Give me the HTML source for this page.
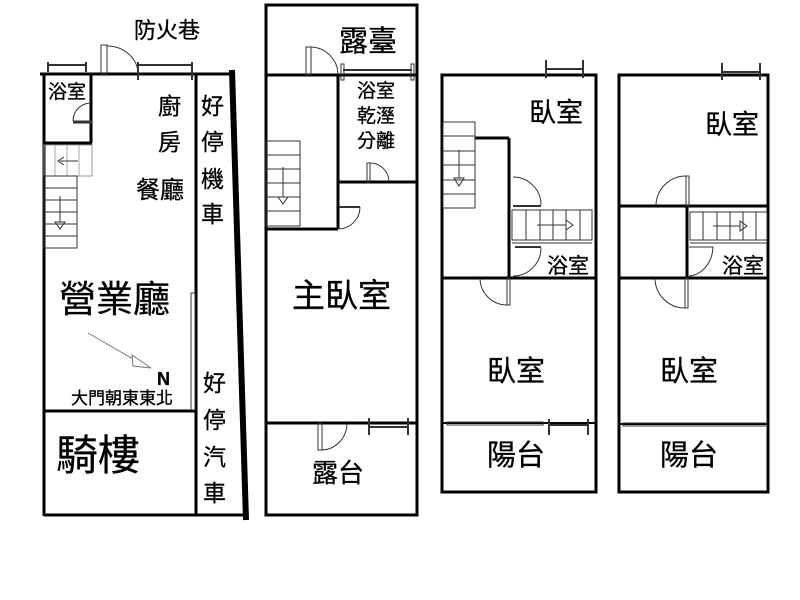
<!DOCTYPE html>
<html><head><meta charset="utf-8"><style>
body{margin:0;background:#fff;}
svg{display:block;}
text{font-family:"Liberation Sans","Noto Sans CJK TC",sans-serif;fill:#000;stroke:#000;stroke-width:0.3;}
</style></head><body>
<svg width="800" height="600" viewBox="0 0 800 600" xmlns="http://www.w3.org/2000/svg">
<g stroke="#000" stroke-width="3" fill="none">
<line x1="40" y1="74" x2="234" y2="74"/>
<line x1="44" y1="74" x2="44" y2="516"/>
<line x1="196" y1="74" x2="196" y2="516"/>
<line x1="44" y1="411" x2="196" y2="411"/>
<line x1="44" y1="515" x2="246" y2="515"/>
<line x1="91" y1="74" x2="91" y2="143"/>
<line x1="44" y1="143" x2="92" y2="143"/>
<line x1="232" y1="70" x2="246" y2="520" stroke-width="6"/>
<rect x="266" y="5" width="151" height="510"/>
<line x1="266" y1="75" x2="417" y2="75"/>
<line x1="338" y1="75" x2="338" y2="229"/>
<line x1="338" y1="182" x2="417" y2="182"/>
<line x1="266" y1="229" x2="338" y2="229"/>
<line x1="266" y1="423" x2="417" y2="423"/>
<rect x="442" y="75" width="154" height="417"/>
<line x1="475" y1="138" x2="509" y2="138"/>
<line x1="509" y1="138" x2="509" y2="278"/>
<line x1="442" y1="278" x2="596" y2="278"/>
<line x1="442" y1="423" x2="596" y2="423" stroke-width="2"/>
<rect x="619" y="75" width="149" height="417"/>
<line x1="619" y1="206" x2="768" y2="206"/>
<line x1="687" y1="206" x2="687" y2="278"/>
<line x1="619" y1="278" x2="768" y2="278"/>
<line x1="619" y1="424" x2="768" y2="424" stroke-width="2"/>
</g>
<g stroke="#333" stroke-width="1" fill="none">
<rect x="101" y="45" width="6" height="29"/>
<path d="M107 46 A31 28 0 0 1 138 74"/>
<line x1="138" y1="65" x2="192" y2="65" stroke-width="2"/>
<line x1="138" y1="62" x2="138" y2="80" stroke-width="2"/>
<line x1="192" y1="62" x2="192" y2="80" stroke-width="2"/>
<line x1="48" y1="65" x2="86" y2="65" stroke-width="2"/>
<line x1="48" y1="62" x2="48" y2="72" stroke-width="2"/>
<line x1="86" y1="62" x2="86" y2="72" stroke-width="2"/>
<path d="M73 121 A18 18 0 0 1 91 103"/>
<line x1="73" y1="122" x2="92" y2="122" stroke-width="3"/>
<rect x="44" y="145" width="48" height="31" stroke="#999"/>
<line x1="55" y1="145" x2="55" y2="176" stroke="#aaa"/><line x1="67" y1="145" x2="67" y2="176" stroke="#aaa"/><line x1="79" y1="145" x2="79" y2="176" stroke="#aaa"/>
<line x1="60" y1="161" x2="78" y2="161"/><path d="M64 157 L58 161 L64 165"/>
<rect x="44" y="176" width="33" height="72"/>
<line x1="44" y1="188" x2="77" y2="188"/><line x1="44" y1="200" x2="77" y2="200"/><line x1="44" y1="212" x2="77" y2="212"/><line x1="44" y1="224" x2="77" y2="224"/><line x1="44" y1="236" x2="77" y2="236"/>
<line x1="60" y1="196" x2="60" y2="222"/><path d="M55 222 L60 229 L65 222 Z"/>
<rect x="191" y="293" width="4" height="117"/>
<line x1="88" y1="333" x2="140" y2="363" stroke="#777"/><path d="M132 355 L151 368 L133 366 Z" fill="#fff" stroke="#777"/>
<rect x="306" y="47" width="5" height="28"/>
<path d="M311 47 A28 28 0 0 1 338 75"/>
<line x1="343" y1="70" x2="412" y2="70" stroke-width="2"/>
<rect x="341" y="64" width="3" height="16"/><rect x="411" y="64" width="3" height="16"/>
<rect x="367" y="163" width="3" height="19"/><path d="M370 163 A19 19 0 0 1 389 182"/>
<line x1="339" y1="207" x2="360" y2="207" stroke-width="2"/><path d="M360 207 A22 22 0 0 1 339 229"/>
<rect x="266" y="141" width="34" height="85"/>
<line x1="266" y1="155" x2="300" y2="155"/><line x1="266" y1="169" x2="300" y2="169"/><line x1="266" y1="183" x2="300" y2="183"/><line x1="266" y1="197" x2="300" y2="197"/><line x1="266" y1="211" x2="300" y2="211"/>
<line x1="283" y1="167" x2="283" y2="197"/><path d="M278 197 L283 204 L288 197 Z"/>
<rect x="318" y="423" width="4" height="27"/><path d="M322 450 A26 27 0 0 0 347 423"/>
<line x1="369" y1="427" x2="408" y2="427" stroke-width="2"/>
<line x1="369" y1="418" x2="369" y2="435" stroke-width="2"/><line x1="408" y1="418" x2="408" y2="435" stroke-width="2"/>
<line x1="545" y1="69" x2="583" y2="69" stroke-width="2"/>
<line x1="546" y1="60" x2="546" y2="78" stroke-width="2"/><line x1="583" y1="60" x2="583" y2="78" stroke-width="2"/>
<rect x="443" y="122" width="32" height="86"/>
<line x1="443" y1="136" x2="475" y2="136"/><line x1="443" y1="151" x2="475" y2="151"/><line x1="443" y1="165" x2="475" y2="165"/><line x1="443" y1="180" x2="475" y2="180"/><line x1="443" y1="194" x2="475" y2="194"/>
<line x1="459" y1="150" x2="459" y2="178"/><path d="M454 178 L459 186 L464 178 Z"/>
<path d="M513 177 A28 28 0 0 1 541 205"/><line x1="513" y1="206" x2="541" y2="206" stroke-width="2"/>
<rect x="512" y="210" width="80" height="30"/>
<line x1="526" y1="210" x2="526" y2="240"/><line x1="540" y1="210" x2="540" y2="240"/><line x1="553" y1="210" x2="553" y2="240"/><line x1="566" y1="210" x2="566" y2="240"/><line x1="580" y1="210" x2="580" y2="240"/>
<line x1="537" y1="225" x2="566" y2="225"/><path d="M566 220 L573 225 L566 230 Z"/>
<line x1="512" y1="243" x2="592" y2="243"/>
<line x1="515" y1="247" x2="541" y2="247" stroke-width="2"/><path d="M541 248 A28 28 0 0 1 513 276"/>
<rect x="507" y="278" width="3" height="27"/><path d="M507 305 A27 27 0 0 1 480 278"/>
<rect x="447" y="422" width="96" height="3"/>
<line x1="549" y1="425" x2="588" y2="425" stroke-width="2"/>
<line x1="549" y1="419" x2="549" y2="435" stroke-width="2"/><line x1="588" y1="419" x2="588" y2="435" stroke-width="2"/>
<line x1="722" y1="72" x2="760" y2="72" stroke-width="2"/>
<line x1="722" y1="63" x2="722" y2="80" stroke-width="2"/><line x1="760" y1="63" x2="760" y2="80" stroke-width="2"/>
<rect x="686" y="176" width="3" height="30"/><path d="M686 176 A30 30 0 0 0 656 206"/>
<rect x="690" y="212" width="77" height="28"/>
<line x1="703" y1="212" x2="703" y2="240"/><line x1="717" y1="212" x2="717" y2="240"/><line x1="730" y1="212" x2="730" y2="240"/><line x1="743" y1="212" x2="743" y2="240"/><line x1="756" y1="212" x2="756" y2="240"/>
<line x1="713" y1="226" x2="740" y2="226"/><path d="M740 221 L747 226 L740 231 Z"/>
<line x1="690" y1="243" x2="767" y2="243"/>
<path d="M689 247 L713 247 A26 30 0 0 1 689 276"/>
<rect x="685" y="278" width="3" height="30"/><path d="M685 308 A30 30 0 0 1 655 278"/>
<rect x="623" y="423" width="142" height="3"/>
</g>
<text x="134" y="38" font-size="22">防火巷</text>
<text x="48" y="98" font-size="19">浴室</text>
<text x="158" y="114" font-size="23">廚</text>
<text x="158" y="150" font-size="23">房</text>
<text x="136" y="198" font-size="24">餐廳</text>
<g font-size="23"><text x="201" y="114">好</text><text x="201" y="150">停</text><text x="201" y="187">機</text><text x="201" y="222">車</text></g>
<text x="59" y="312" font-size="37">營業廳</text>
<text x="157" y="385" font-size="18" font-weight="bold">N</text>
<text x="71" y="404" font-size="17">大門朝東東北</text>
<text x="56" y="470" font-size="42">騎樓</text>
<g font-size="23"><text x="203" y="391">好</text><text x="203" y="428">停</text><text x="203" y="465">汽</text><text x="203" y="501">車</text></g>
<text x="339" y="51" font-size="29">露臺</text>
<g font-size="19"><text x="357" y="97">浴室</text><text x="357" y="122">乾溼</text><text x="357" y="147">分離</text></g>
<text x="292" y="307" font-size="33">主臥室</text>
<text x="312" y="482" font-size="26">露台</text>
<text x="529" y="122" font-size="27">臥室</text>
<text x="547" y="273" font-size="21">浴室</text>
<text x="487" y="381" font-size="29">臥室</text>
<text x="487" y="465" font-size="29">陽台</text>
<text x="705" y="134" font-size="27">臥室</text>
<text x="722" y="273" font-size="21">浴室</text>
<text x="660" y="381" font-size="29">臥室</text>
<text x="660" y="465" font-size="29">陽台</text>
</svg>
</body></html>
